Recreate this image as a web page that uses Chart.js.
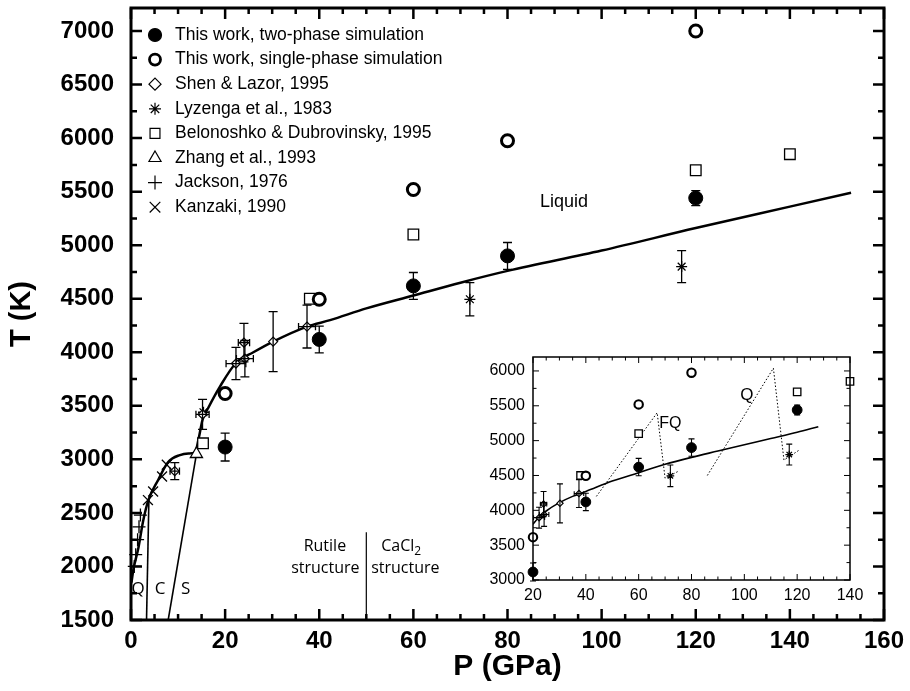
<!DOCTYPE html>
<html>
<head>
<meta charset="utf-8">
<script src="https://cdn.jsdelivr.net/npm/chart.js@4.4.0/dist/chart.umd.min.js"></script>
<style>
  html, body { margin: 0; padding: 0; background: #fff; }
  #wrap { position: relative; width: 910px; height: 691px; }
  #main { position: absolute; left: 0; top: 0; }
  #inset { position: absolute; left: 470px; top: 340px; }
</style>
</head>
<body>
<div id="wrap">
  <canvas id="main" width="910" height="691"></canvas>
  <canvas id="inset" width="400" height="280"></canvas>
</div>
<script>
// --- this work
const twoPhaseP = [20, 40, 60, 80, 120];
const twoPhaseT = [3115, 4120, 4620, 4900, 5440];
const twoPhaseErr = [130, 125, 125, 125, 70];

const onePhaseP = [20, 40, 60, 80, 120];
const onePhaseT = [3615, 4495, 5520, 5975, 7000];

// --- literature
const shenP = [9.3, 15.2, 22.3, 24.0, 24.2, 30.2, 37.4];
const shenT = [2890, 3420, 3895, 4090, 3940, 4100, 4240];
const shenErrP = [1.0, 1.4, 2.1, 1.2, 1.8, 0, 1.8];
const shenErrT = [80, 140, 150, 180, 170, 280, 200];

const lyzP = [15.4, 72, 117];
const lyzT = [3440, 4495, 4800];
const lyzErr = [0, 155, 150];

const beloP = [15.3, 38, 60, 120, 140];
const beloT = [3150, 4500, 5100, 5700, 5850];

const zhangP = [13.9];
const zhangT = [3050];

const jacksonP = [2.0, 1.7, 1.4, 1.0, 0.7];
const jacksonT = [2480, 2370, 2250, 2110, 2000];

const kanzakiP = [3.6, 4.7, 6.6, 7.6];
const kanzakiT = [2620, 2700, 2840, 2950];

// --- curves
const meltP = [0.1, 0.5, 1.6, 2.6, 3.7, 5.8, 7.9, 10.4, 12.2, 13.6, 14.4, 15.2, 16.4, 18.9, 22.3, 26, 30.2, 37.4, 42.3, 50, 60, 70, 80, 100, 120, 140, 153];
const meltT = [1850, 1970, 2180, 2430, 2620, 2810, 2975, 3040, 3055, 3065, 3200, 3370, 3480, 3680, 3900, 4000, 4100, 4240, 4300, 4410, 4530, 4650, 4760, 4950, 5160, 5360, 5490];
const qcP = [3.3, 3.8];
const qcT = [1500, 2620];
const csP = [7.9, 13.9];
const csT = [1500, 3050];
const rutileP = [50, 50];
const rutileT = [1500, 2320];

// inset curves
const insetMeltP = [20, 22, 25, 30, 35, 40, 50, 60, 70, 80, 90, 100, 110, 120, 128];
const insetMeltT = [3800, 3890, 3990, 4110, 4200, 4270, 4420, 4540, 4660, 4760, 4850, 4940, 5030, 5120, 5200];
const fqP = [44, 67, 70, 75];
const fqT = [4200, 5400, 4460, 4560];
const qP = [86, 111, 115, 121];
const qT = [4500, 6040, 4720, 4870];

// --- ticks
const xTicks = [0, 20, 40, 60, 80, 100, 120, 140, 160];
const yTicks = [1500, 2000, 2500, 3000, 3500, 4000, 4500, 5000, 5500, 6000, 6500, 7000];
const insetXTicks = [20, 40, 60, 80, 100, 120, 140];
const insetYTicks = [3000, 3500, 4000, 4500, 5000, 5500, 6000];

const FONT = "'Liberation Sans', Arial, sans-serif";
Chart.defaults.font.family = FONT;
Chart.defaults.color = '#000';

function pts(xs, ys, ex, ey) {
  return xs.map((x, i) => ({ x: x, y: ys[i], ex: ex ? ex[i] : 0, ey: ey ? ey[i] : 0 }));
}

function marker(label, data, style, r, fill, bw, legendR) {
  return {
    label: label, data: data, pointStyle: style, pointRadius: r,
    pointBackgroundColor: fill, pointBorderColor: '#000', pointBorderWidth: bw,
    backgroundColor: fill, borderColor: '#000', borderWidth: bw,
    legendRadius: legendR, showLine: false, clip: false
  };
}

function markerSets(minP, s) {
  const keep = p => p.x >= minP;
  return [
    marker('This work, two-phase simulation', pts(twoPhaseP, twoPhaseT, null, twoPhaseErr).filter(keep), 'circle', 7 * s, '#000', 1, 6.5),
    marker('This work, single-phase simulation', pts(onePhaseP, onePhaseT).filter(keep), 'circle', 6 * s, '#fff', 3 * s, 5.5),
    marker('Shen & Lazor, 1995', pts(shenP, shenT, shenErrP, shenErrT).filter(keep), 'rectRot', 4.5 * s, '#fff', 1.2, 6),
    marker('Lyzenga et al., 1983', pts(lyzP, lyzT, null, lyzErr).filter(keep), 'star', 5.5 * s, '#000', 1.3, 6),
    marker('Belonoshko & Dubrovinsky, 1995', pts(beloP, beloT).filter(keep), 'rect', 7.5 * s, '#fff', 1.3, 7),
    marker('Zhang et al., 1993', pts(zhangP, zhangT).filter(keep), 'triangle', 7 * s, '#fff', 1.3, 7),
    marker('Jackson, 1976', pts(jacksonP, jacksonT).filter(keep), 'cross', 6.5 * s, '#fff', 1.3, 7),
    marker('Kanzaki, 1990', pts(kanzakiP, kanzakiT).filter(keep), 'crossRot', 7 * s, '#fff', 1.3, 7.5)
  ];
}

function curve(xs, ys, width, extra) {
  return Object.assign({
    data: pts(xs, ys), showLine: true, pointRadius: 0, borderColor: '#000',
    borderWidth: width, fill: false, tension: 0
  }, extra || {});
}

// fixed axis boxes, no label overflow padding
function fixY(w) {
  return s => { s.width = w; s.paddingTop = 0; s.paddingBottom = 0; };
}
function fixX(h) {
  return s => { s.height = h; s.paddingLeft = 0; s.paddingRight = 0; };
}

// inward ticks on all four sides + frame
const framePlugin = {
  id: 'frame',
  afterDraw(chart, args, o) {
    const { ctx, chartArea: a, scales: { x, y } } = chart;
    ctx.save();
    ctx.strokeStyle = '#000';
    ctx.lineWidth = o.tickWidth;
    ctx.beginPath();
    const nx = Math.round((x.max - x.min) / o.xStep);
    for (let i = 0; i <= nx; i++) {
      const v = x.min + i * o.xStep;
      const len = o.xMajor.includes(v) ? o.major : o.minor;
      const px = x.getPixelForValue(v);
      ctx.moveTo(px, a.bottom); ctx.lineTo(px, a.bottom - len);
      ctx.moveTo(px, a.top); ctx.lineTo(px, a.top + len);
    }
    const ny = Math.floor((y.max - y.min) / o.yStep + 1e-6);
    for (let i = 0; i <= ny; i++) {
      const v = y.min + i * o.yStep;
      const len = o.yMajor.includes(v) ? o.major : o.minor;
      const py = y.getPixelForValue(v);
      ctx.moveTo(a.left, py); ctx.lineTo(a.left + len, py);
      ctx.moveTo(a.right, py); ctx.lineTo(a.right - len, py);
    }
    ctx.stroke();
    ctx.lineWidth = o.border;
    ctx.strokeRect(a.left, a.top, a.right - a.left, a.bottom - a.top);
    ctx.restore();
  }
};

const errorPlugin = {
  id: 'errorBars',
  afterDatasetsDraw(chart, args, o) {
    const { ctx, scales: { x, y } } = chart;
    ctx.save();
    ctx.strokeStyle = '#000';
    ctx.lineWidth = o.width;
    chart.data.datasets.forEach(ds => {
      if (!ds.label) return;
      ds.data.forEach(p => {
        const px = x.getPixelForValue(p.x), py = y.getPixelForValue(p.y);
        ctx.beginPath();
        if (p.ey) {
          const t = y.getPixelForValue(p.y + p.ey), b = y.getPixelForValue(p.y - p.ey);
          ctx.moveTo(px, t); ctx.lineTo(px, b);
          ctx.moveTo(px - o.cap, t); ctx.lineTo(px + o.cap, t);
          ctx.moveTo(px - o.cap, b); ctx.lineTo(px + o.cap, b);
        }
        if (p.ex) {
          const l = x.getPixelForValue(p.x - p.ex), r = x.getPixelForValue(p.x + p.ex);
          ctx.moveTo(l, py); ctx.lineTo(r, py);
          ctx.moveTo(l, py - o.cap * 0.8); ctx.lineTo(l, py + o.cap * 0.8);
          ctx.moveTo(r, py - o.cap * 0.8); ctx.lineTo(r, py + o.cap * 0.8);
        }
        ctx.stroke();
      });
    });
    ctx.restore();
  }
};

const notesPlugin = {
  id: 'notes',
  afterDatasetsDraw(chart, args, o) {
    const { ctx, scales: { x, y } } = chart;
    ctx.save();
    ctx.fillStyle = '#000';
    ctx.textBaseline = 'middle';
    (o.items || []).forEach(n => {
      ctx.font = n.font;
      const px = x.getPixelForValue(n.x), py = y.getPixelForValue(n.y);
      if (n.sub) {
        const w1 = ctx.measureText(n.text).width;
        ctx.font = n.subFont;
        const w2 = ctx.measureText(n.sub).width;
        const left = px - (w1 + w2) / 2;
        ctx.textAlign = 'left';
        ctx.fillText(n.sub, left + w1, py + 5);
        ctx.font = n.font;
        ctx.fillText(n.text, left, py);
      } else {
        ctx.textAlign = 'center';
        ctx.fillText(n.text, px, py);
      }
    });
    ctx.restore();
  }
};

const legendPlugin = {
  id: 'sideLegend',
  afterDraw(chart, args, o) {
    if (!o.show) return;
    const ctx = chart.ctx;
    ctx.save();
    ctx.font = o.font;
    ctx.textBaseline = 'middle';
    ctx.textAlign = 'left';
    chart.data.datasets.filter(d => d.label).forEach((d, i) => {
      const cy = o.y + i * o.dy;
      ctx.fillStyle = d.backgroundColor;
      ctx.strokeStyle = '#000';
      ctx.lineWidth = d.pointStyle === 'circle' && d.backgroundColor === '#fff' ? 2.8 : 1.2;
      Chart.helpers.drawPoint(ctx, { pointStyle: d.pointStyle, radius: d.legendRadius, rotation: 0, borderWidth: ctx.lineWidth }, o.x, cy);
      ctx.fillStyle = '#000';
      ctx.fillText(d.label, o.textX, cy);
    });
    ctx.restore();
  }
};

function tickCb(v) { return String(v); }

// ---------- main chart
const mainSets = markerSets(-1, 1).concat([
  curve(meltP, meltT, 2.5, { cubicInterpolationMode: 'monotone' }),
  curve(qcP, qcT, 1.6),
  curve(csP, csT, 1.6),
  curve(rutileP, rutileT, 1.2)
]);

new Chart(document.getElementById('main'), {
  type: 'scatter',
  data: { datasets: mainSets },
  options: {
    responsive: false, animation: false, events: [], devicePixelRatio: 1,
    layout: { autoPadding: false, padding: { left: 0, top: 8, right: 26, bottom: 0 } },
    scales: {
      x: {
        type: 'linear', min: 0, max: 160,
        afterBuildTicks: s => { s.ticks = xTicks.map(v => ({ value: v })); },
        afterFit: fixX(71),
        grid: { display: false, drawTicks: false }, border: { display: false },
        ticks: { font: { size: 24, weight: 'bold' }, padding: 7, maxRotation: 0, autoSkip: false, callback: tickCb },
        title: { display: true, text: 'P (GPa)', font: { size: 30, weight: 'bold' }, padding: { top: 0, bottom: 6 } }
      },
      y: {
        type: 'linear', min: 1500, max: 7215,
        afterBuildTicks: s => { s.ticks = yTicks.map(v => ({ value: v })); },
        afterFit: fixY(131),
        grid: { display: false, drawTicks: false }, border: { display: false },
        ticks: { font: { size: 24, weight: 'bold' }, padding: 17, autoSkip: false, callback: tickCb },
        title: { display: true, text: 'T (K)', font: { size: 29, weight: 'bold' }, padding: { top: 5, bottom: 0 } }
      }
    },
    plugins: {
      legend: { display: false }, tooltip: { enabled: false },
      frame: { xStep: 5, yStep: 250, xMajor: xTicks, yMajor: yTicks, major: 11, minor: 6, tickWidth: 2.5, border: 3 },
      errorBars: { width: 1.3, cap: 4.5 },
      sideLegend: { show: true, x: 155, textX: 175, y: 35, dy: 24.6, font: "17.5px " + FONT },
      notes: {
        items: [
          { text: 'Liquid', x: 92, y: 5400, font: "18px " + FONT },
          { text: 'Q', x: 1.5, y: 1790, font: "17px 'Open Sans', sans-serif" },
          { text: 'C', x: 6.2, y: 1790, font: "17px 'Open Sans', sans-serif" },
          { text: 'S', x: 11.6, y: 1790, font: "17px 'Open Sans', sans-serif" },
          { text: 'Rutile', x: 41.2, y: 2183, font: "16px 'Open Sans', sans-serif" },
          { text: 'structure', x: 41.3, y: 1986, font: "16px 'Open Sans', sans-serif" },
          { text: 'CaCl', sub: '2', x: 57.4, y: 2183, font: "16px 'Open Sans', sans-serif", subFont: "12px 'Open Sans', sans-serif" },
          { text: 'structure', x: 58.3, y: 1986, font: "16px 'Open Sans', sans-serif" }
        ]
      }
    }
  },
  plugins: [framePlugin, errorPlugin, notesPlugin, legendPlugin]
});

// ---------- inset chart
const insetSets = markerSets(20, 0.7).concat([
  curve(insetMeltP, insetMeltT, 1.6, { cubicInterpolationMode: 'monotone' }),
  curve(fqP, fqT, 1, { borderDash: [1.5, 2] }),
  curve(qP, qT, 1, { borderDash: [1.5, 2] })
]);

new Chart(document.getElementById('inset'), {
  type: 'scatter',
  data: { datasets: insetSets },
  options: {
    responsive: false, animation: false, events: [], devicePixelRatio: 1,
    layout: { autoPadding: false, padding: { left: 0, top: 17, right: 20, bottom: 0 } },
    scales: {
      x: {
        type: 'linear', min: 20, max: 140,
        afterBuildTicks: s => { s.ticks = insetXTicks.map(v => ({ value: v })); },
        afterFit: fixX(40),
        grid: { display: false, drawTicks: false }, border: { display: false },
        ticks: { font: { size: 16 }, padding: 6, maxRotation: 0, autoSkip: false, callback: tickCb }
      },
      y: {
        type: 'linear', min: 3000, max: 6200,
        afterBuildTicks: s => { s.ticks = insetYTicks.map(v => ({ value: v })); },
        afterFit: fixY(63),
        grid: { display: false, drawTicks: false }, border: { display: false },
        ticks: { font: { size: 16 }, padding: 8, autoSkip: false, callback: tickCb }
      }
    },
    plugins: {
      legend: { display: false }, tooltip: { enabled: false },
      frame: { xStep: 5, yStep: 250, xMajor: insetXTicks, yMajor: insetYTicks, major: 6, minor: 3.5, tickWidth: 1, border: 1.5 },
      errorBars: { width: 1.1, cap: 3 },
      sideLegend: { show: false },
      notes: {
        items: [
          { text: 'FQ', x: 72, y: 5250, font: "16px " + FONT },
          { text: 'Q', x: 101, y: 5655, font: "17px " + FONT }
        ]
      }
    }
  },
  plugins: [framePlugin, errorPlugin, notesPlugin, legendPlugin]
});
</script>
</body>
</html>
